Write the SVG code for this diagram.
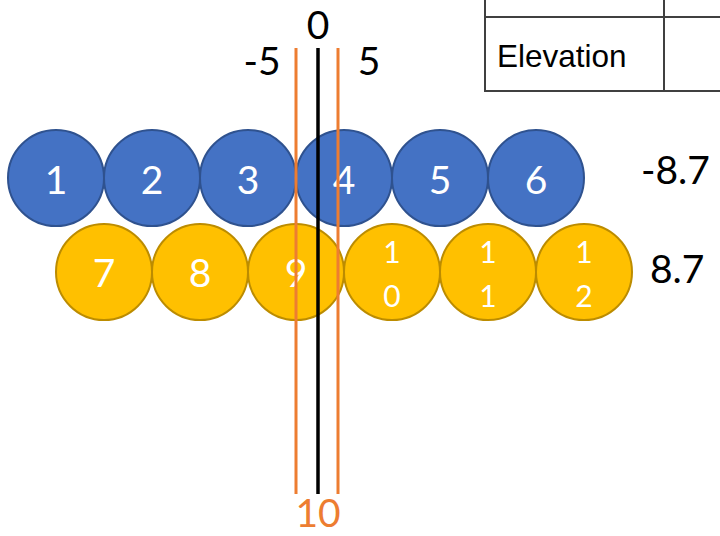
<svg xmlns="http://www.w3.org/2000/svg" width="720" height="536" viewBox="0 0 720 536">
  <style>
    .blue { fill: #4472C4; stroke: #2F528F; stroke-width: 2; }
    .gold { fill: #FFC000; stroke: #BC8C00; stroke-width: 2; }
    .num { font-family: Lato, "Open Sans", sans-serif; fill: #FFFFFF; text-anchor: middle; font-size: 39px; }
    .num2 { font-family: Lato, "Open Sans", sans-serif; fill: #FFFFFF; text-anchor: middle; font-size: 30px; }
    .lbl { font-family: Lato, "Open Sans", sans-serif; fill: #000000; font-size: 39px; }
    .grid { stroke: #404040; stroke-width: 2; fill: none; }
    .orange { stroke: #ED7D31; stroke-width: 3; }
  </style>
  <rect width="720" height="536" fill="#FFFFFF"/>

  <!-- table corner -->
  <g id="table">
    <path class="grid" d="M485 0 V91 H720 M664 0 V91 M485 17 H720"/>
    <text x="497" y="67" font-family="'Liberation Sans', Arial, sans-serif" font-size="31.5" fill="#000">Elevation</text>
  </g>

  <!-- upper row -->
  <g id="n1"><circle class="blue" cx="56" cy="178" r="48"/><text class="num" x="56" y="194">1</text></g>
  <g id="n2"><circle class="blue" cx="152" cy="178" r="48"/><text class="num" x="152" y="194">2</text></g>
  <g id="n3"><circle class="blue" cx="248" cy="178" r="48"/><text class="num" x="248" y="194">3</text></g>
  <g id="n4"><circle class="blue" cx="344" cy="178" r="48"/><text class="num" x="344" y="194">4</text></g>
  <g id="n5"><circle class="blue" cx="440" cy="178" r="48"/><text class="num" x="440" y="194">5</text></g>
  <g id="n6"><circle class="blue" cx="536" cy="178" r="48"/><text class="num" x="536" y="194">6</text></g>

  <!-- lower row -->
  <g id="n7"><circle class="gold" cx="104" cy="272" r="48"/><text class="num" x="104" y="287">7</text></g>
  <g id="n8"><circle class="gold" cx="200" cy="272" r="48"/><text class="num" x="200" y="287">8</text></g>
  <g id="n9"><circle class="gold" cx="296" cy="272" r="48"/><text class="num" x="296" y="287">9</text></g>
  <g id="n10"><circle class="gold" cx="392" cy="272" r="48"/><text class="num2" x="392" y="263">1</text><text class="num2" x="392" y="307">0</text></g>
  <g id="n11"><circle class="gold" cx="488" cy="272" r="48"/><text class="num2" x="488" y="263">1</text><text class="num2" x="488" y="307">1</text></g>
  <g id="n12"><circle class="gold" cx="584" cy="272" r="48"/><text class="num2" x="584" y="263">1</text><text class="num2" x="584" y="307">2</text></g>

  <!-- row values -->
  <g id="values">
    <text class="lbl" x="641" y="184">-8.7</text>
    <text class="lbl" x="650" y="283">8.7</text>
  </g>

  <!-- reference lines -->
  <g id="connectors">
    <line class="orange" x1="296" y1="48" x2="296" y2="494"/>
    <line class="orange" x1="338" y1="48" x2="338" y2="494"/>
    <line x1="318" y1="48" x2="318" y2="494" stroke="#000" stroke-width="3.5"/>
  </g>

  <!-- axis labels -->
  <g id="axis">
    <text class="lbl" x="318" y="39" text-anchor="middle" font-size="40">0</text>
    <text class="lbl" x="262" y="75" text-anchor="middle">-5</text>
    <text class="lbl" x="369" y="75" text-anchor="middle">5</text>
    <text class="lbl" x="318" y="527" text-anchor="middle" font-size="37" style="fill:#ED7D31">10</text>
  </g>
</svg>
